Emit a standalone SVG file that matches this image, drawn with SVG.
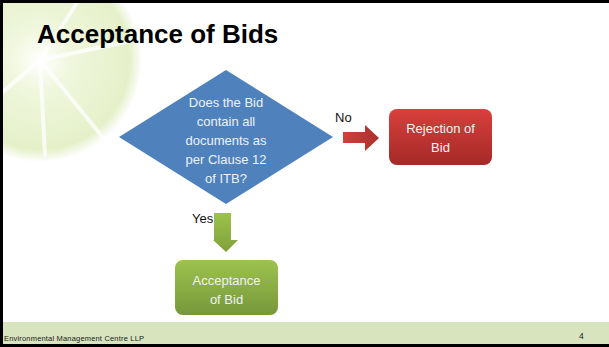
<svg xmlns="http://www.w3.org/2000/svg" width="609" height="347" viewBox="0 0 609 347">
<style>
.t{font-family:"Liberation Sans",Arial,sans-serif;}
.w{fill:#eef2f8;font-size:13px;text-anchor:middle;}
.lbl{fill:#111;font-size:13px;}
</style>
<defs>
<linearGradient id="gRed" x1="0" y1="0" x2="0" y2="1"><stop offset="0" stop-color="#d8403c"/><stop offset="1" stop-color="#a42a28"/></linearGradient>
<linearGradient id="gGreen" x1="0" y1="0" x2="0" y2="1"><stop offset="0" stop-color="#9ec24f"/><stop offset="1" stop-color="#77973a"/></linearGradient>
<linearGradient id="gRA" x1="0" y1="0" x2="1" y2="0"><stop offset="0" stop-color="#d3403c"/><stop offset="1" stop-color="#a8302c"/></linearGradient>
<linearGradient id="gGA" x1="0" y1="0" x2="0" y2="1"><stop offset="0" stop-color="#9cc24c"/><stop offset="1" stop-color="#7fa23a"/></linearGradient>
<radialGradient id="lime" cx="0.5" cy="0.5" r="0.5"><stop offset="0" stop-color="#ffffff"/><stop offset="0.3" stop-color="#eef6d8"/><stop offset="0.88" stop-color="#e1eec0"/><stop offset="1" stop-color="#e1eec0" stop-opacity="0"/></radialGradient>
</defs>
<rect x="0" y="0" width="609" height="347" fill="#ffffff"/>
<g id="watermark" opacity="0.85">
<circle cx="40" cy="60" r="102" fill="url(#lime)"/>
<g stroke="#ffffff" stroke-width="4" opacity="0.8" stroke-linecap="round">
<line x1="40" y1="60" x2="135" y2="40"/>
<line x1="40" y1="60" x2="105" y2="140"/>
<line x1="40" y1="60" x2="45" y2="155"/>
<line x1="40" y1="60" x2="-30" y2="120"/>
<line x1="40" y1="60" x2="95" y2="-25"/>
</g>
</g>
<rect x="0" y="322" width="609" height="22" fill="#d8e4bd"/>
<g fill="#000">
<rect x="0" y="0" width="609" height="3"/>
<rect x="0" y="0" width="3" height="347"/>
<rect x="0" y="344" width="609" height="3"/>
</g>
<text class="t" x="37" y="43" font-size="26" font-weight="bold" fill="#000">Acceptance of Bids</text>
<g id="connectors">
<polygon id="arrow-no" points="343,132 365,132 365,125 379,138 365,151 365,143 343,143" fill="url(#gRA)"/>
<polygon id="arrow-yes" points="214,213 231,213 231,240 238,240 226,252 213,240 214,240" fill="url(#gGA)"/>
<text class="t lbl" x="335" y="122">No</text>
<text class="t lbl" x="192" y="223">Yes</text>
</g>
<g id="decision">
<polygon points="226,70 333,137 226,204 119,137" fill="#4f81bd"/>
<text class="t w"><tspan x="226" y="107">Does the Bid</tspan><tspan x="226" y="126">contain all</tspan><tspan x="226" y="145">documents as</tspan><tspan x="226" y="164">per Clause 12</tspan><tspan x="226" y="183">of ITB?</tspan></text>
</g>
<g id="rejection">
<rect x="389" y="109" width="103" height="56" rx="8" fill="url(#gRed)"/>
<text class="t w"><tspan x="440.5" y="133">Rejection of</tspan><tspan x="440.5" y="152">Bid</tspan></text>
</g>
<g id="acceptance">
<rect x="175" y="260" width="103" height="55" rx="8" fill="url(#gGreen)"/>
<text class="t w"><tspan x="226.5" y="285">Acceptance</tspan><tspan x="226.5" y="304">of Bid</tspan></text>
</g>
<text class="t" x="4" y="341" font-size="7.5" fill="#222" textLength="140">Environmental Management Centre LLP</text>
<text class="t" x="579" y="339" font-size="8.5" fill="#222">4</text>
</svg>
